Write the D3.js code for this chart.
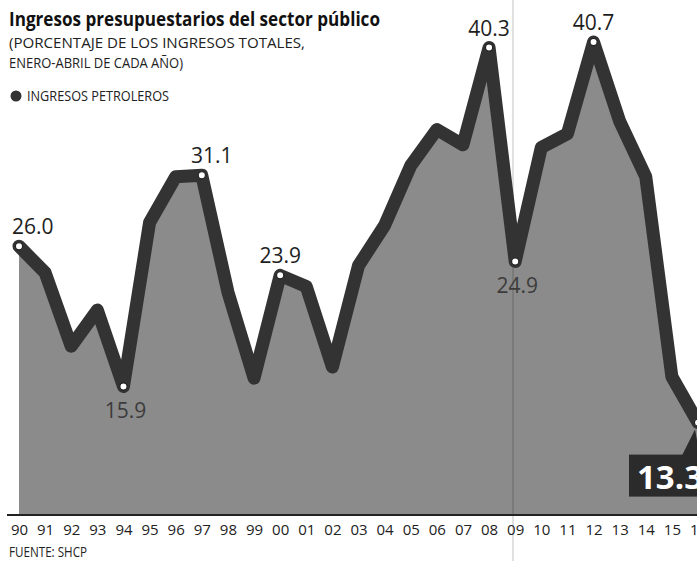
<html>
<head>
<meta charset="utf-8">
<script src="https://cdn.jsdelivr.net/npm/d3@7"></script>
<style>
  body { margin: 0; background: #fff; }
  svg text { font-family: "Open Sans", sans-serif; }
</style>
</head>
<body>
<svg class="chart"></svg>
<script>
  // años (eje x) y porcentaje de ingresos petroleros, enero-abril
  var years = ["90","91","92","93","94","95","96","97","98","99","00","01","02","03",
               "04","05","06","07","08","09","10","11","12","13","14","15","16"];
  var ingresosPetroleros = [26.0, 24.1, 18.8, 21.4, 15.9, 27.7, 31.0, 31.1, 22.7, 16.5,
                            23.9, 23.1, 17.3, 24.6, 27.5, 31.8, 34.4, 33.3, 40.3, 24.9,
                            33.1, 34.1, 40.7, 35.0, 31.0, 16.6, 13.3];
  var labelsAbove = ["90", "97", "00", "08", "12"];
  var labelsBelow = ["94", "09"];
  var lastYear = "16";

  var width = 697, height = 561;
  var baseY = 514;

  var data = years.map(function(y, i) { return {year: y, value: ingresosPetroleros[i]}; });

  var x = d3.scalePoint().domain(years).range([19, 698]);
  var y = d3.scaleLinear().domain([6.72, 40.7]).range([baseY, 42]);

  var svg = d3.select(".chart").attr("width", width).attr("height", height);

  // area
  var area = d3.area()
    .x(function(d) { return x(d.year); })
    .y0(baseY)
    .y1(function(d) { return y(d.value); });
  svg.append("path").datum(data)
    .attr("d", area)
    .attr("fill", "#8b8b8b");

  // crease of the page
  svg.append("line")
    .attr("x1", 513).attr("x2", 513).attr("y1", 0).attr("y2", height)
    .attr("stroke", "rgba(0,0,0,0.16)").attr("stroke-width", 1.5);

  // thick line
  var line = d3.line()
    .x(function(d) { return x(d.year); })
    .y(function(d) { return y(d.value); });
  svg.append("path").datum(data)
    .attr("d", line)
    .attr("fill", "none")
    .attr("stroke", "#333")
    .attr("stroke-width", 13)
    .attr("stroke-linejoin", "round")
    .attr("stroke-linecap", "round");

  // baseline
  svg.append("line")
    .attr("x1", 7).attr("x2", width).attr("y1", baseY + 1).attr("y2", baseY + 1)
    .attr("stroke", "#222").attr("stroke-width", 2);

  // markers
  var marked = labelsAbove.concat(labelsBelow).concat([lastYear]);
  svg.selectAll("circle.mark")
    .data(data.filter(function(d) { return marked.indexOf(d.year) >= 0; }))
    .enter().append("circle")
      .attr("class", "mark")
      .attr("cx", function(d) { return x(d.year); })
      .attr("cy", function(d) { return y(d.value); })
      .attr("r", 3.6)
      .attr("fill", "#fff")
      .attr("stroke", "#222")
      .attr("stroke-width", 1.2);

  // value labels
  svg.selectAll("text.above")
    .data(data.filter(function(d) { return labelsAbove.indexOf(d.year) >= 0; }))
    .enter().append("text")
      .attr("class", "above")
      .attr("x", function(d, i) { return i == 0 ? x(d.year) - 7 : x(d.year) + (d.year == "97" ? 10 : 0); })
      .attr("y", function(d) { return y(d.value) - 12; })
      .attr("text-anchor", function(d, i) { return i == 0 ? "start" : "middle"; })
      .attr("font-size", "21px")
      .attr("fill", "#1e1e1e")
      .text(function(d) { return d.value.toFixed(1); });

  svg.selectAll("text.below")
    .data(data.filter(function(d) { return labelsBelow.indexOf(d.year) >= 0; }))
    .enter().append("text")
      .attr("class", "below")
      .attr("x", function(d) { return x(d.year) + 2; })
      .attr("y", function(d) { return y(d.value) + 32; })
      .attr("text-anchor", "middle")
      .attr("font-size", "21px")
      .attr("fill", "#3c3c3c")
      .text(function(d) { return d.value.toFixed(1); });

  // last value callout
  var last = data[data.length - 1];
  var lx = x(last.year), ly = y(last.value);
  svg.append("path")
    .attr("d", "M" + (lx - 16) + "," + (ly + 33) + "L" + (lx - 3) + "," + (ly + 7) + "L" + (lx + 2) + "," + (ly + 33) + "Z")
    .attr("fill", "#2b2b2b");
  svg.append("rect")
    .attr("x", lx - 69).attr("y", ly + 32)
    .attr("width", 80).attr("height", 42)
    .attr("fill", "#2b2b2b");
  svg.append("text")
    .attr("x", lx - 61).attr("y", ly + 66)
    .attr("font-weight", "bold")
    .attr("font-size", "33px")
    .attr("fill", "#fff")
    .text(last.value.toFixed(1));

  // x axis labels
  svg.append("g")
    .attr("transform", "translate(0," + baseY + ")")
    .call(d3.axisBottom(x).tickSize(0).tickPadding(10))
    .call(function(g) { g.select(".domain").remove(); })
    .selectAll("text")
      .attr("font-family", "Open Sans, sans-serif")
      .attr("font-size", "15px")
      .attr("fill", "#222");

  // titles
  svg.append("text")
    .attr("x", 9).attr("y", 26)
    .attr("font-weight", "bold")
    .attr("font-size", "20px")
    .attr("textLength", 371)
    .attr("lengthAdjust", "spacingAndGlyphs")
    .attr("fill", "#111")
    .text("Ingresos presupuestarios del sector público");
  svg.append("text")
    .attr("x", 9).attr("y", 48)
    .attr("font-size", "14.5px")
    .attr("textLength", 296)
    .attr("lengthAdjust", "spacingAndGlyphs")
    .attr("fill", "#222")
    .text("(PORCENTAJE DE LOS INGRESOS TOTALES,");
  svg.append("text")
    .attr("x", 9).attr("y", 68)
    .attr("font-size", "14.5px")
    .attr("textLength", 174)
    .attr("lengthAdjust", "spacingAndGlyphs")
    .attr("fill", "#222")
    .text("ENERO-ABRIL DE CADA AÑO)");

  svg.append("circle")
    .attr("cx", 16).attr("cy", 96).attr("r", 5.5)
    .attr("fill", "#333");
  svg.append("text")
    .attr("x", 27).attr("y", 101)
    .attr("font-size", "14.5px")
    .attr("textLength", 142)
    .attr("lengthAdjust", "spacingAndGlyphs")
    .attr("fill", "#222")
    .text("INGRESOS PETROLEROS");

  svg.append("text")
    .attr("x", 9).attr("y", 557)
    .attr("font-size", "14px")
    .attr("textLength", 78)
    .attr("lengthAdjust", "spacingAndGlyphs")
    .attr("fill", "#222")
    .text("FUENTE: SHCP");
</script>
</body>
</html>
